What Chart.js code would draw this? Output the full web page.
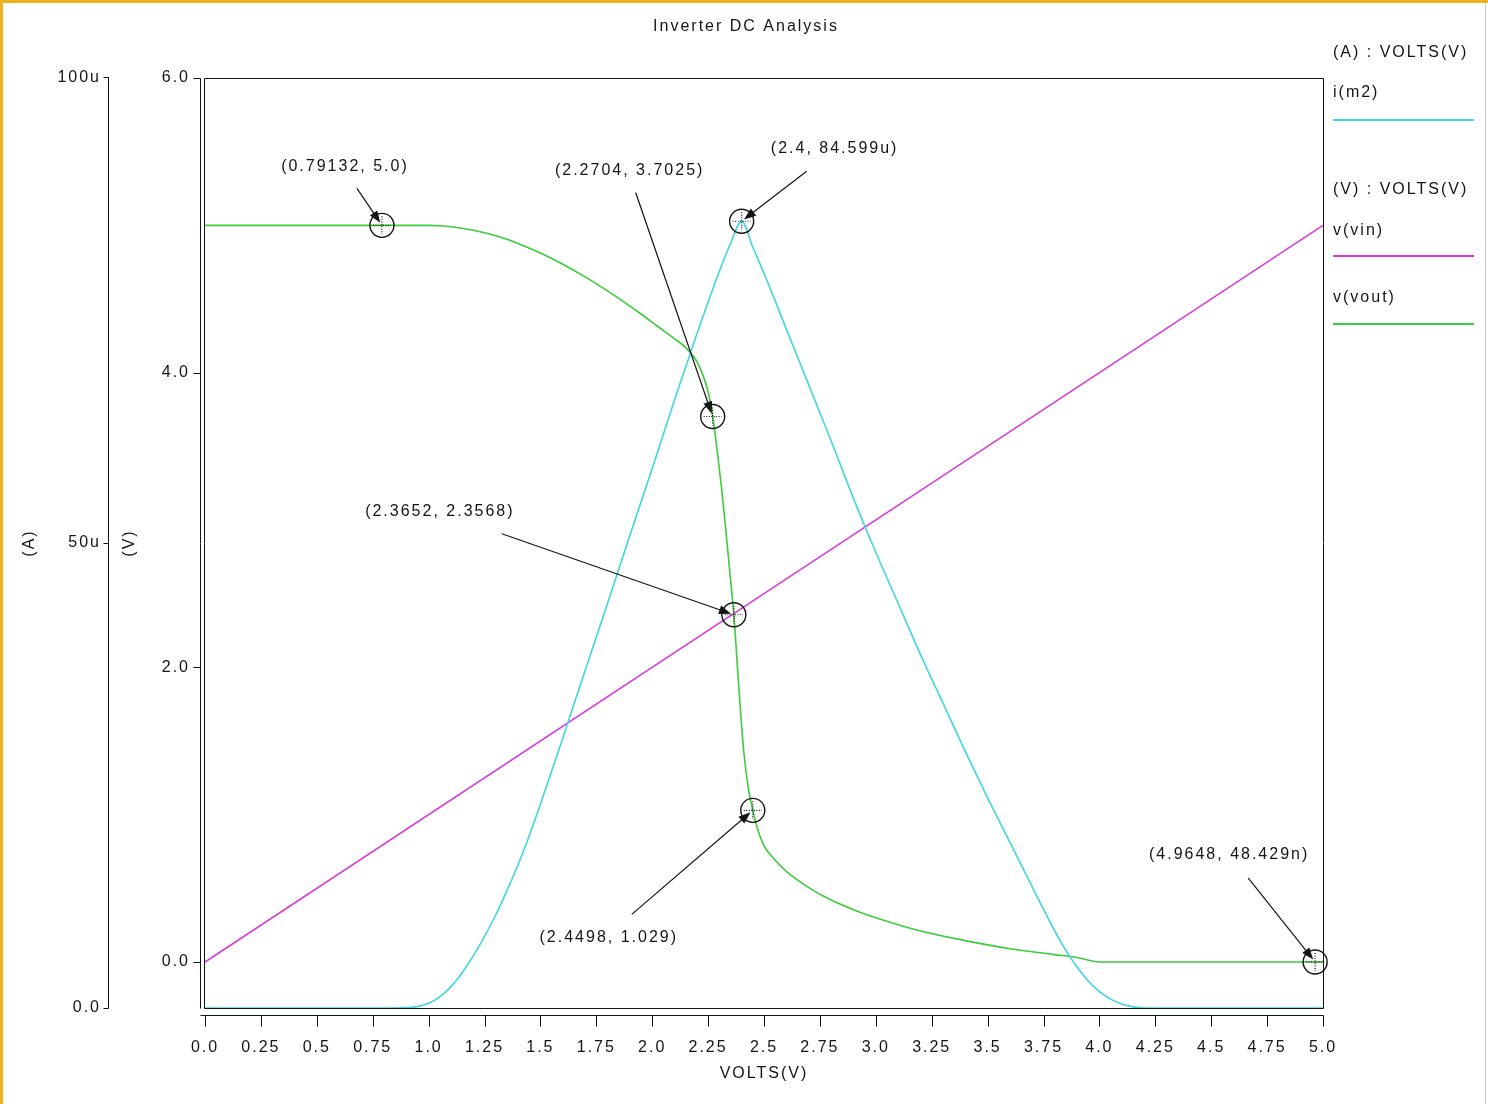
<!DOCTYPE html>
<html><head><meta charset="utf-8">
<script src="https://cdn.jsdelivr.net/npm/chart.js@4.4.1/dist/chart.umd.min.js"></script>
<style>html,body{margin:0;padding:0;background:#fff;overflow:hidden}canvas{display:block}</style>
</head><body>
<canvas id="c" width="1488" height="1104"></canvas>
<script>
// ---------- data ----------
const chartTitle = 'Inverter DC Analysis';
const xTickValues = [0,0.25,0.5,0.75,1.0,1.25,1.5,1.75,2.0,2.25,2.5,2.75,3.0,3.25,3.5,3.75,4.0,4.25,4.5,4.75,5.0];
const xTickLabels = ['0.0','0.25','0.5','0.75','1.0','1.25','1.5','1.75','2.0','2.25','2.5','2.75','3.0','3.25','3.5','3.75','4.0','4.25','4.5','4.75','5.0'];
const vTickValues = [0,2,4,6];
const vTickLabels = ['0.0','2.0','4.0','6.0'];
const aTickValues = [0,50,100];           // micro-amps
const aTickLabels = ['0.0','50u','100u'];

// i(m2) in micro-amps vs VOLTS(V)
const iM2X = [0,0.84,0.9,0.95,1.0,1.05,1.1,1.15,1.2,1.25,1.3,1.35,1.4,1.45,1.5,1.6,1.7,1.8,1.9,2.0,2.1,2.2,2.3,2.35,2.4,2.45,2.5,2.6,2.7,2.8,2.9,3.0,3.1,3.2,3.3,3.4,3.5,3.6,3.7,3.75,3.8,3.85,3.9,3.95,4.0,4.05,4.1,4.15,4.2,5.0];
const iM2Y = [0,0,0.04,0.15,0.5,1.2,2.3,3.8,5.6,7.7,10.0,12.6,15.4,18.5,21.9,29.0,36.3,43.5,50.8,58.0,65.4,72.5,79.2,82.2,84.599,81.8,79.0,73.0,67.0,61.0,54.8,49.0,43.5,38.0,32.8,27.6,22.6,17.8,13.0,10.6,8.3,6.2,4.4,2.9,1.75,0.95,0.42,0.12,0,0];

// v(vin)
const vInX = [0,5.0];
const vInY = [0,5.0];

// v(vout)
const vOutX = [0,1.0,1.05,1.1,1.15,1.2,1.25,1.3,1.35,1.4,1.5,1.6,1.7,1.8,1.9,1.95,2.0,2.05,2.1,2.15,2.2,2.225,2.25,2.2704,2.29,2.31,2.33,2.35,2.3652,2.38,2.395,2.41,2.43,2.4498,2.47,2.5,2.55,2.6,2.7,2.8,2.9,3.0,3.2,3.4,3.6,3.8,3.9,4.0,5.0];
const vOutY = [5.0,5.0,4.997,4.99,4.98,4.966,4.949,4.929,4.905,4.877,4.812,4.736,4.65,4.555,4.452,4.398,4.342,4.285,4.23,4.17,4.075,3.99,3.87,3.7025,3.48,3.22,2.92,2.60,2.3568,2.03,1.70,1.42,1.18,1.029,0.91,0.79,0.69,0.615,0.505,0.42,0.355,0.30,0.21,0.145,0.09,0.05,0.03,0.0,0.0];

// markers
const markerX = [0.79132, 2.2704, 2.4, 2.3652, 2.4498, 4.9648];
const markerY = [5.0, 3.7025, 84.599, 2.3568, 1.029, 48.429e-9];
const markerAxis = ['yV','yV','yA','yV','yV','yV'];
const markerLabels = ['(0.79132, 5.0)','(2.2704, 3.7025)','(2.4, 84.599u)','(2.3652, 2.3568)','(2.4498, 1.029)','(4.9648, 48.429n)'];

const legendGroups = ['(A) : VOLTS(V)', '(V) : VOLTS(V)'];

// ---------- layout / style (not data) ----------
const labelOffsets = [ // [label dx, label dy, arrow start dx, arrow start dy] relative to marker
  [-37,-59,-25,-37],
  [-83,-246,-77,-224],
  [93,-73,65,-50],
  [-294,-103,-232,-81],
  [-144,127,-121,104],
  [-86,-107,-67,-84]
];
const CYAN = '#3ed8dc', MAGENTA = '#d83ad8', GREEN = '#3ccc3c', INK = '#141414';
const LS = '2px';
const FONT = "'Liberation Sans', Arial, Helvetica, sans-serif";
Chart.defaults.font.family = FONT;
Chart.defaults.font.size = 16;
Chart.defaults.color = INK;

function arrow(c, x1, y1, x2, y2) {
  const ang = Math.atan2(y2 - y1, x2 - x1), L = 12, W = 4.5;
  const cs = Math.cos(ang), sn = Math.sin(ang);
  c.beginPath(); c.moveTo(x1, y1); c.lineTo(x2 - cs * L * 0.7, y2 - sn * L * 0.7); c.stroke();
  c.beginPath(); c.moveTo(x2, y2);
  c.lineTo(x2 - L * cs + W * sn, y2 - L * sn - W * cs);
  c.lineTo(x2 - L * cs - W * sn, y2 - L * sn + W * cs);
  c.closePath(); c.fill();
}

const deco = {
  id: 'deco',
  beforeUpdate(chart) { chart.ctx.letterSpacing = LS; },
  beforeDraw(chart) {
    const c = chart.ctx; c.letterSpacing = LS;
    c.save(); c.fillStyle = '#fff'; c.fillRect(0, 0, chart.width, chart.height); c.restore();
  },
  beforeDatasetsDraw(chart) {
    const c = chart.ctx, a = chart.chartArea, sx = chart.scales.x, sv = chart.scales.yV, sa = chart.scales.yA;
    c.save(); c.strokeStyle = INK; c.lineWidth = 1; c.setLineDash([]);
    c.beginPath();
    const L = Math.round(a.left) - 0.5, R = Math.round(a.right) + 0.5, T = Math.round(a.top) + 0.5, B = Math.round(a.bottom) + 0.5;
    c.rect(L, T, R - L, B - T);
    const vx = L - 4;
    c.moveTo(vx, T); c.lineTo(vx, B);
    vTickValues.forEach(v => { const y = Math.round(sv.getPixelForValue(v)) + 0.5; c.moveTo(vx - 7, y); c.lineTo(vx, y); });
    const ax = Math.round(sa.right) + 0.5;
    c.moveTo(ax, Math.round(sa.getPixelForValue(100)) - 1); c.lineTo(ax, Math.round(sa.getPixelForValue(0)) + 0.5);
    aTickValues.forEach(v => { const y = Math.round(sa.getPixelForValue(v)) + (v === 100 ? -0.5 : 0.5); c.moveTo(ax - 5, y); c.lineTo(ax, y); });
    const xy = B + 7;
    c.moveTo(vx, xy); c.lineTo(R, xy);
    xTickValues.forEach(v => { const x = Math.round(sx.getPixelForValue(v)) + 0.5; c.moveTo(x, xy); c.lineTo(x, xy + 11); });
    c.stroke(); c.restore();
  },
  afterDatasetsDraw(chart) {
    const c = chart.ctx, sx = chart.scales.x;
    c.save();
    c.letterSpacing = LS;
    c.font = '16px ' + FONT;
    c.textAlign = 'center'; c.textBaseline = 'middle';
    c.fillStyle = INK; c.strokeStyle = INK;
    markerX.forEach((mx, i) => {
      const px = sx.getPixelForValue(mx);
      const py = chart.scales[markerAxis[i]].getPixelForValue(markerY[i]);
      const o = labelOffsets[i];
      c.setLineDash([]); c.lineWidth = 1.4;
      c.beginPath(); c.arc(px, py, 12, 0, Math.PI * 2); c.stroke();
      c.lineWidth = 1.2; c.setLineDash([1, 1.5]);
      c.beginPath(); c.moveTo(px - 9, py); c.lineTo(px + 9, py); c.moveTo(px, py - 9); c.lineTo(px, py + 9); c.stroke();
      c.setLineDash([]); c.lineWidth = 1.2;
      const sxp = px + o[2], syp = py + o[3];
      const ang = Math.atan2(py - syp, px - sxp);
      arrow(c, sxp, syp, px - Math.cos(ang) * 3, py - Math.sin(ang) * 3);
      c.fillText(markerLabels[i], px + o[0], py + o[1]);
    });
    // title
    c.fillText(chartTitle, 746, 27);
    // legend
    c.textAlign = 'left';
    const ds = chart.data.datasets;
    const lx = 1333, lw = 141;
    c.fillText(legendGroups[0], lx, 53);
    c.fillText(ds[0].label, lx, 93);
    c.fillText(legendGroups[1], lx, 190);
    c.fillText(ds[1].label, lx, 231);
    c.fillText(ds[2].label, lx, 298);
    c.lineWidth = 2;
    [[ds[0], 120], [ds[1], 256], [ds[2], 324]].forEach(([d, y]) => {
      c.strokeStyle = d.borderColor; c.beginPath(); c.moveTo(lx, y); c.lineTo(lx + lw, y); c.stroke();
    });
    // window frame
    c.fillStyle = '#EDB31C';
    c.fillRect(0, 0, chart.width, 3);
    c.fillRect(0, 0, 3, chart.height);
    c.fillStyle = '#c9c9c9';
    c.fillRect(1485, 3, 1, chart.height - 3);
    c.restore();
  }
};

const pts = (xs, ys) => xs.map((x, i) => ({ x, y: ys[i] }));

new Chart(document.getElementById('c').getContext('2d'), {
  type: 'line',
  data: {
    datasets: [
      { label: 'i(m2)', yAxisID: 'yA', data: pts(iM2X, iM2Y), borderColor: CYAN },
      { label: 'v(vin)', yAxisID: 'yV', data: pts(vInX, vInY), borderColor: MAGENTA },
      { label: 'v(vout)', yAxisID: 'yV', data: pts(vOutX, vOutY), borderColor: GREEN }
    ]
  },
  options: {
    responsive: false, animation: false, devicePixelRatio: 1,
    layout: { padding: { left: 10, right: 165, top: 78, bottom: 16 } },
    plugins: { legend: { display: false }, title: { display: false }, tooltip: { enabled: false } },
    elements: { point: { radius: 0 }, line: { borderWidth: 1.6, cubicInterpolationMode: 'monotone', fill: false } },
    scales: {
      x: {
        type: 'linear', position: 'bottom', min: 0, max: 5,
        grid: { display: false, drawTicks: false }, border: { display: false },
        afterBuildTicks: s => { s.ticks = xTickValues.map(v => ({ value: v })); },
        afterFit: s => { s.height = 80; },
        ticks: { autoSkip: false, maxRotation: 0, minRotation: 0, padding: 30, callback: (v, i) => xTickLabels[i] },
        title: { display: true, text: 'VOLTS(V)', padding: { top: 0, bottom: 5 } }
      },
      yV: {
        type: 'linear', position: 'left', weight: 0, min: -0.3125, max: 6,
        grid: { display: false, drawTicks: false }, border: { display: false },
        afterBuildTicks: s => { s.ticks = vTickValues.map(v => ({ value: v })); },
        afterFit: s => { s.width = 97; },
        ticks: { padding: 15, callback: (v, i) => vTickLabels[i] },
        title: { display: true, text: '(V)', padding: { top: 12, bottom: 0 } }
      },
      yA: {
        type: 'linear', position: 'left', weight: 1, min: 0, max: 100,
        grid: { display: false, drawTicks: false }, border: { display: false },
        afterBuildTicks: s => { s.ticks = aTickValues.map(v => ({ value: v })); },
        afterFit: s => { s.width = 98; },
        ticks: { padding: 7, callback: (v, i) => aTickLabels[i] },
        title: { display: true, text: '(A)', padding: { top: 10, bottom: 0 } }
      }
    }
  },
  plugins: [deco]
});
</script>
</body></html>
